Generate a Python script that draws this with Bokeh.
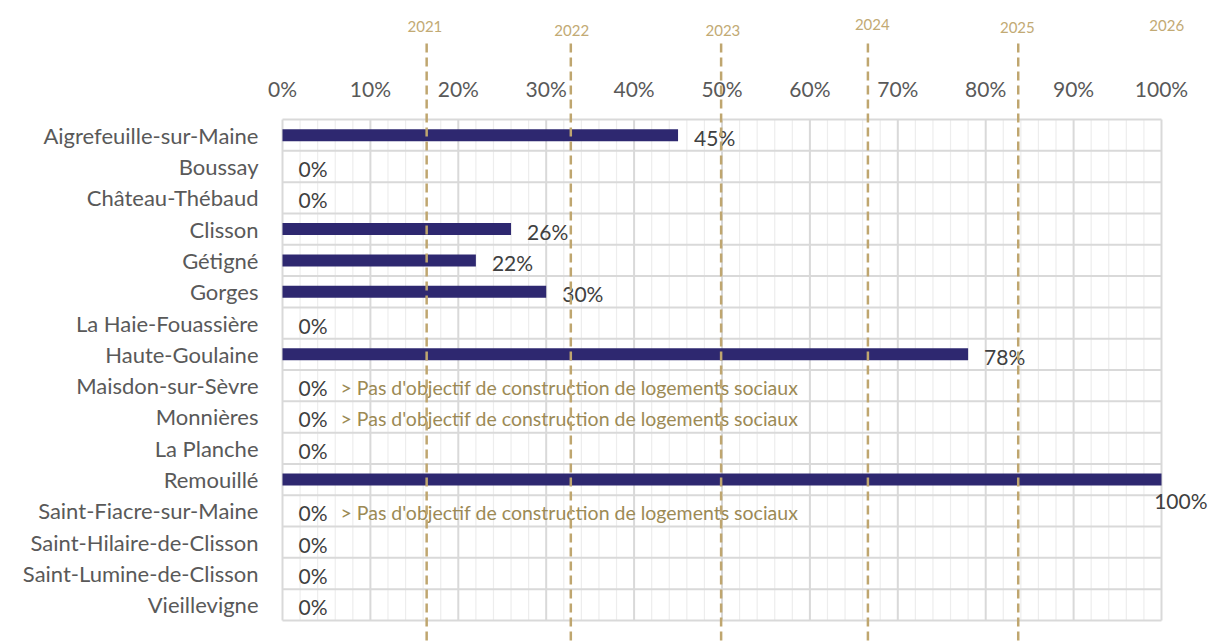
from bokeh.plotting import figure
from bokeh.models import Range1d, FixedTicker
from bokeh.core.properties import value
from bokeh.embed import file_html
from bokeh.resources import INLINE

# ---- data ----
communes = ["Aigrefeuille-sur-Maine", "Boussay", "Château-Thébaud", "Clisson", "Gétigné",
            "Gorges", "La Haie-Fouassière", "Haute-Goulaine", "Maisdon-sur-Sèvre", "Monnières",
            "La Planche", "Remouillé", "Saint-Fiacre-sur-Maine", "Saint-Hilaire-de-Clisson",
            "Saint-Lumine-de-Clisson", "Vieillevigne"]
taux = [45, 0, 0, 26, 22, 30, 0, 78, 0, 0, 0, 100, 0, 0, 0, 0]
sans_objectif = ["Maisdon-sur-Sèvre", "Monnières", "Saint-Fiacre-sur-Maine"]
note = "> Pas d'objectif de construction de logements sociaux"
x_ticks = [0, 10, 20, 30, 40, 50, 60, 70, 80, 90, 100]
x_tick_labels = ["0%", "10%", "20%", "30%", "40%", "50%", "60%", "70%", "80%", "90%", "100%"]
annees = ["2021", "2022", "2023", "2024", "2025", "2026"]
annees_pos = [16.4, 32.8, 49.9, 66.6, 83.7, 100.0]

# ---- layout ----
W, H = 1208, 644
ZERO_PX = 282          # pixel of 0 %
FRAME_LEFT = 264
PX_PER_PCT = 8.79
ROW_PX = 31.31
TOP_PX = 119
BOT_PX = 24
FONT = value("Lato")
n = len(communes)
rows = list(range(n))

x_start = -(ZERO_PX - FRAME_LEFT) / PX_PER_PCT
x_end = (W - ZERO_PX) / PX_PER_PCT
y_top = -0.5 - TOP_PX / ROW_PX
y_bot = n - 0.5 + BOT_PX / ROW_PX


def ypx(py):
    return -0.5 - (TOP_PX - py) / ROW_PX


def xpx(px):
    return (px - ZERO_PX) / PX_PER_PCT


p = figure(width=W, height=H, output_backend="svg", toolbar_location=None,
           x_range=Range1d(x_start, x_end), y_range=Range1d(y_bot, y_top),
           min_border_left=FRAME_LEFT, min_border_right=0, min_border_top=0, min_border_bottom=0,
           x_axis_location=None)
p.outline_line_color = None
p.xgrid.visible = False
p.ygrid.visible = False
p.background_fill_color = "white"
p.border_fill_color = "white"

# category axis
ax = p.yaxis[0]
ax.ticker = FixedTicker(ticks=rows)
ax.major_label_overrides = {i: c for i, c in enumerate(communes)}
ax.axis_line_color = None
ax.major_tick_line_color = None
ax.minor_tick_line_color = None
ax.major_tick_out = 0
ax.major_tick_in = 0
ax.minor_tick_out = 0
ax.major_label_standoff = 6
ax.major_label_text_font = "Lato"
ax.major_label_text_font_size = "22px"
ax.major_label_text_color = "#595959"

# grid
minor = [v for v in range(0, 101, 2) if v % 10 != 0]
p.segment(x0=minor, x1=minor, y0=[-0.5] * len(minor), y1=[n - 0.5] * len(minor),
          line_color="#EDEDED", line_width=1.2)
hl = [i - 0.5 for i in range(n + 1)]
p.segment(x0=[0] * len(hl), x1=[100] * len(hl), y0=hl, y1=hl,
          line_color="#D9D9D9", line_width=2)
p.segment(x0=x_ticks, x1=x_ticks, y0=[-0.5] * len(x_ticks), y1=[n - 0.5] * len(x_ticks),
          line_color="#D9D9D9", line_width=2)

# top tick labels
p.text(x=x_ticks, y=[ypx(88)] * len(x_ticks), text=x_tick_labels,
       text_align="center", text_baseline="middle", text_font=FONT,
       text_font_size="21px", text_color="#595959")

# bars
p.hbar(y=rows, left=0, right=taux, height=12 / ROW_PX, fill_color="#2E2870", line_color=None)

# value labels
lx, ly, lt, la = [], [], [], []
for i, v in enumerate(taux):
    lt.append(f"{v}%")
    if v >= 100:
        lx.append(xpx(W - 1))
        ly.append(i + 21 / ROW_PX)
        la.append("right")
    else:
        lx.append(v + 16 / PX_PER_PCT)
        ly.append(i + 2 / ROW_PX)
        la.append("left")
p.text(x=lx, y=ly, text=lt, text_align=la, text_baseline="middle",
       text_font=FONT, text_font_size="21px", text_color="#404040")

# notes
ny = [communes.index(c) + 2 / ROW_PX for c in sans_objectif]
p.text(x=[xpx(340)] * len(ny), y=ny, text=[note] * len(ny), text_align="left",
       text_baseline="middle", text_font=FONT, text_font_size="19.5px", text_color="#9C8A55")

# year markers
lines = annees_pos[:-1]
p.segment(x0=lines, x1=lines, y0=[ypx(43)] * len(lines), y1=[y_bot] * len(lines),
          line_color="#BFA66F", line_width=2.5, line_dash="9 5")
year_label_px = [26, 30, 30, 24, 27, 25]
year_label_dx = [-0.2, 0.1, 0.2, 0.5, -0.1, 0.6]
p.text(x=[a + d for a, d in zip(annees_pos, year_label_dx)],
       y=[ypx(py) for py in year_label_px], text=annees,
       text_align="center", text_baseline="middle", text_font=FONT,
       text_font_size="15px", text_color="#C2AA74")

open("out.html", "w").write(file_html(p, INLINE))
